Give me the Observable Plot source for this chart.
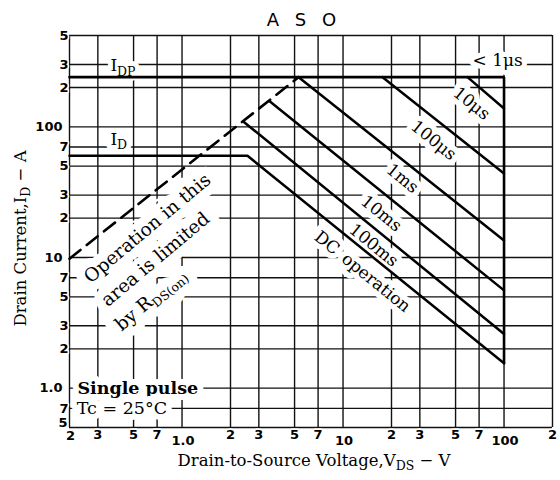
<!DOCTYPE html>
<html>
<head>
<meta charset="utf-8">
<script src="https://cdn.jsdelivr.net/npm/d3@7"></script>
<script src="https://cdn.jsdelivr.net/npm/@observablehq/plot@0.6"></script>
<style>
  html, body { margin: 0; padding: 0; background: #fff; }
</style>
</head>
<body>
<div id="chart"></div>
<script>
// ---- grid / tick data ----
const gridX = [0.2, 0.3, 0.5, 0.7, 1, 2, 3, 5, 7, 10, 20, 30, 50, 70, 100, 200];
const xTickLabels = ["2", "3", "5", "7", "1.0", "2", "3", "5", "7", "10", "2", "3", "5", "7", "100", "2"];
const gridY = [0.5, 0.7, 1, 2, 3, 5, 7, 10, 20, 30, 50, 70, 100, 200, 300, 500];
const yTickLabels = ["5", "7", "1.0", "2", "3", "5", "7", "10", "2", "3", "5", "7", "100", "2", "3", "5"];

// ---- SOA curves (V_DS in V, I_D in A) ----
const curveNames = ["10μs", "100μs", "1ms", "10ms", "100ms", "DC"];
const curveV = [[59.3, 100], [17.6, 100], [5.3, 100], [3.5, 100], [2.4, 100], [0.2, 2.55, 100]];
const curveI = [[240, 138], [240, 44], [240, 13.5], [157, 5.6], [110, 2.6], [60, 60, 1.55]];

// I_DP limit and V_DSS limit
const boundaryV = [0.2, 100, 100];
const boundaryI = [240, 240, 1.55];

// R_DS(on) limit (dashed)
const limitV = [0.2, 5.3];
const limitI = [9.8, 240];

// ---- annotation texts ----
const powerLabelText = ["10μs", "100μs", "1ms", "10ms", "100ms", "DC\u2002operation"];
const powerLabelV = [62.8, 36.5, 23.4, 17.3, 15.5, 13.2];
const powerLabelI = [151, 78.7, 40.3, 21.7, 12.4, 7.8];

const rdsText = ["Operation in this", "area is limited", "by R_{DS(on)}"];
const rdsV = [0.61, 0.684, 0.637];
const rdsI = [16.7, 9.66, 4.77];

const leftText = ["I_{DP}", "I_{D}", "< 1μs"];
const leftV = [0.359, 0.359, 63.7];
const leftI = [292, 80, 322];

const condText = ["Single pulse", "Tc = 25°C"];
const condV = [0.224, 0.222];
const condI = [0.995, 0.70];

// ---- build tables ----
const isMajor = s => ["1.0", "10", "100"].includes(s);
const xTicks = gridX.map((v, k) => ({v, label: xTickLabels[k], major: isMajor(xTickLabels[k])}));
const yTicks = gridY.map((i, k) => ({i, label: yTickLabels[k], major: isMajor(yTickLabels[k])}));
const curves = curveNames.flatMap((name, k) => curveV[k].map((v, j) => ({name, v, i: curveI[k][j]})));
const boundary = boundaryV.map((v, j) => ({v, i: boundaryI[j]}));
const limit = limitV.map((v, j) => ({v, i: limitI[j]}));
const powerLabels = powerLabelText.map((t, k) => ({t, v: powerLabelV[k], i: powerLabelI[k]}));
const rdsLabels = rdsText.map((t, k) => ({t, v: rdsV[k], i: rdsI[k]}));
const leftLabels = leftText.map((t, k) => ({t, v: leftV[k], i: leftI[k]}));
const condLabels = condText.map((t, k) => ({t, v: condV[k], i: condI[k], bold: k === 0}));

const SERIF = "DejaVu Serif";
const SANS = "DejaVu Sans";
const tickStyle = {fontFamily: SANS, fontWeight: "bold", fontSize: 13, fill: "black", stroke: "white", strokeWidth: 3};

// a white halo layer under a plain black text layer
function haloText(data, opts, w) {
  return [
    Plot.text(data, {...opts, fill: "white", stroke: "white", strokeWidth: w}),
    Plot.text(data, {...opts, fill: "black"})
  ];
}

const chart = Plot.plot({
  width: 560,
  height: 480,
  marginLeft: 69,
  marginRight: 8,
  marginTop: 35,
  marginBottom: 53,
  x: {type: "log", domain: [0.2, 200], axis: null},
  y: {type: "log", domain: [0.5, 500], axis: null},
  style: {fontFamily: SERIF, background: "white", color: "black"},
  marks: [
    Plot.ruleX(gridX, {stroke: "#111", strokeWidth: 1.4}),
    Plot.ruleY(gridY, {stroke: "#111", strokeWidth: 1.4}),
    // labels with white halos (mask grid)
    haloText(rdsLabels, {x: "v", y: "i", text: "t", rotate: -40, fontSize: 18.5, fontFamily: SERIF}, 18),
    haloText(powerLabels, {x: "v", y: "i", text: "t", rotate: 39, fontSize: 17, fontFamily: SERIF}, 11),
    haloText(leftLabels, {x: "v", y: "i", text: "t", textAnchor: "start", fontSize: 17, fontFamily: SERIF}, 10),
    haloText(condLabels.filter(d => d.bold), {x: "v", y: "i", text: "t", textAnchor: "start", fontSize: 17.5, fontWeight: "bold", fontFamily: SERIF}, 12),
    haloText(condLabels.filter(d => !d.bold), {x: "v", y: "i", text: "t", textAnchor: "start", fontSize: 17.5, fontFamily: SERIF}, 12),
    // curves
    Plot.line(boundary, {x: "v", y: "i", stroke: "black", strokeWidth: 2.6, strokeLinejoin: "miter"}),
    Plot.line(curves, {x: "v", y: "i", z: "name", stroke: "black", strokeWidth: 2.5, strokeLinejoin: "miter"}),
    Plot.line(limit, {x: "v", y: "i", stroke: "black", strokeWidth: 2.6, strokeDasharray: "14,8"}),
    // tick labels
    Plot.text(xTicks.filter(d => !d.major && d.v !== 0.2), {x: "v", text: "label", frameAnchor: "bottom", lineAnchor: "middle", dy: 7, ...tickStyle}),
    Plot.text(xTicks.filter(d => d.v === 0.2), {x: "v", text: "label", frameAnchor: "bottom", lineAnchor: "middle", dy: 8, dx: 1, ...tickStyle}),
    Plot.text(xTicks.filter(d => d.major), {x: "v", text: "label", frameAnchor: "bottom", lineAnchor: "middle", dy: 13, dx: 1, ...tickStyle}),
    Plot.text(yTicks.filter(d => !d.major && d.i !== 0.5), {y: "i", text: "label", frameAnchor: "left", textAnchor: "end", lineAnchor: "middle", dx: -1, ...tickStyle}),
    Plot.text(yTicks.filter(d => d.i === 0.5), {y: "i", text: "label", frameAnchor: "left", textAnchor: "end", lineAnchor: "middle", dx: -2, dy: -5, ...tickStyle}),
    Plot.text(yTicks.filter(d => d.major), {y: "i", text: "label", frameAnchor: "left", textAnchor: "end", lineAnchor: "middle", dx: -7, ...tickStyle}),
    // titles
    Plot.text(["A S O"], {frameAnchor: "top", textAnchor: "middle", lineAnchor: "top", dy: -22, dx: -7, fontFamily: SANS, fontSize: 18, fill: "black"}),
    Plot.text(["Drain-to-Source Voltage,V_{DS} − V"], {frameAnchor: "bottom", textAnchor: "middle", lineAnchor: "bottom", dy: 38, dx: 3, fontFamily: SERIF, fontSize: 16.5, fill: "black"}),
    Plot.text(["Drain Current,I_{D} − A"], {frameAnchor: "left", textAnchor: "middle", lineAnchor: "middle", rotate: -90, dx: -49, dy: 7, fontFamily: SERIF, fontSize: 16.5, fill: "black"})
  ]
});

// subscripts and letter spacing
d3.select(chart).selectAll("text").each(function () {
  const t = this;
  const s = t.textContent;
  if (s === "A S O") { t.setAttribute("letter-spacing", "5px"); return; }
  if (!s.includes("_{")) return;
  const base = parseFloat(getComputedStyle(t).fontSize) || 16;
  while (t.firstChild) t.removeChild(t.firstChild);
  const parts = s.split(/(_\{[^}]*\})/).filter(p => p);
  let shifted = false;
  for (const p of parts) {
    const ts = document.createElementNS("http://www.w3.org/2000/svg", "tspan");
    if (p.startsWith("_{")) {
      ts.textContent = p.slice(2, -1);
      ts.setAttribute("font-size", (base * 0.78) + "px");
      ts.setAttribute("dy", (base * 0.28) + "px");
      shifted = true;
    } else {
      ts.textContent = p;
      if (shifted) { ts.setAttribute("dy", (-base * 0.28) + "px"); shifted = false; }
    }
    t.appendChild(ts);
  }
});
d3.select(chart).selectAll("text").attr("paint-order", "stroke");

document.getElementById("chart").appendChild(chart);
</script>
</body>
</html>
